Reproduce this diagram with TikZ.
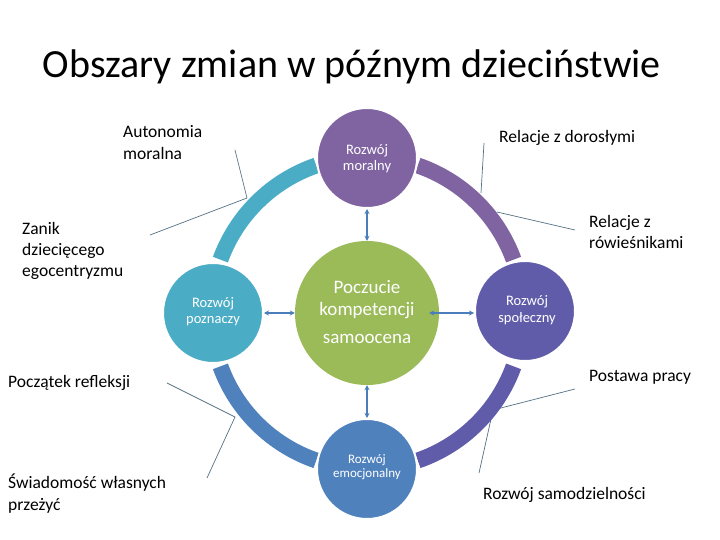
\documentclass[tikz,border=0pt]{standalone}
\usepackage{fontspec}
\setmainfont{Carlito}
\usetikzlibrary{arrows.meta}
\definecolor{cteal}{RGB}{75,172,198}
\definecolor{cpurple}{RGB}{128,100,162}
\definecolor{cindigo}{RGB}{96,92,170}
\definecolor{cblue}{RGB}{79,129,189}
\definecolor{cgreen}{RGB}{155,187,89}
\definecolor{carrow}{RGB}{74,126,187}
\definecolor{cline}{RGB}{84,112,132}
\tikzset{
  sat/.style={circle, minimum size=100pt, inner sep=0pt, draw=white, line width=2pt},
  sattext/.style={text=white, anchor=base, inner sep=0pt, font=\fontsize{14.5}{16}\selectfont},
  ctrtext/.style={text=white, anchor=base, inner sep=0pt, font=\fontsize{19}{22}\selectfont},
  band/.style={line width=16pt},
  lbl/.style={anchor=base west, inner sep=0pt, font=\fontsize{17.5}{21}\selectfont},
  thin/.style={draw=cline, line width=0.7pt},
  arr/.style={draw=carrow, line width=1.6pt, {Stealth[length=5pt,width=5pt]}-{Stealth[length=5pt,width=5pt]}},
}
\begin{document}
\begin{tikzpicture}[x=1pt,y=-1pt]
\useasboundingbox (0,0) rectangle (720,540);
\node[anchor=base, inner sep=0pt, font=\fontsize{40}{48}\selectfont] (title) at (352,78) {Obszary zmian w późnym dzieciństwie};

% labels
\node[lbl] (l1a) at (123,138) {Autonomia};
\node[lbl] (l1b) at (123,160) {moralna};
\node[lbl] (l2a) at (22,235) {Zanik};
\node[lbl] (l2b) at (22,255) {dziecięcego};
\node[lbl] (l2c) at (22,276) {egocentryzmu};
\node[lbl] (l3) at (499,143) {Relacje z dorosłymi};
\node[lbl] (l4a) at (589,228) {Relacje z};
\node[lbl] (l4b) at (589,248) {rówieśnikami};
\node[lbl] (l5) at (8,387) {Początek refleksji};
\node[lbl] (l6a) at (8,488) {Świadomość własnych};
\node[lbl] (l6b) at (8,510) {przeżyć};
\node[lbl] (l7) at (589,381) {Postawa pracy};
\node[lbl] (l8) at (483,499) {Rozwój samodzielności};

% thin leader lines
\coordinate (p1a) at (235,150); \coordinate (p1) at (247,198);
\coordinate (p2a) at (150,235);
\coordinate (p3a) at (484,143); \coordinate (p3) at (481,193);
\coordinate (p4a) at (575,230); \coordinate (p4) at (497,212);
\coordinate (p5a) at (167,383); \coordinate (p5) at (235,417); \coordinate (p5b) at (207,478);
\coordinate (p6a) at (575,389); \coordinate (p6) at (493,410); \coordinate (p6b) at (479,473);
\draw[thin] (p1a) -- (p1);
\draw[thin] (p2a) -- (p1);
\draw[thin] (p3a) -- (p3);
\draw[thin] (p4a) -- (p4);
\draw[thin] (p5a) -- (p5) -- (p5b);
\draw[thin] (p6a) -- (p6) -- (p6b);

% ring bands
\coordinate (C) at (367,313);
\draw[band, cteal] ([shift={(160:156pt)}]C) arc[start angle=160, end angle=109, radius=156pt];
\draw[band, cpurple] ([shift={(71:156pt)}]C) arc[start angle=71, end angle=20, radius=156pt];
\draw[band, cindigo] ([shift={(-20:156pt)}]C) arc[start angle=-20, end angle=-71, radius=156pt];
\draw[band, cblue] ([shift={(-109:156pt)}]C) arc[start angle=-109, end angle=-160, radius=156pt];

% circles
\node[circle, fill=cgreen, minimum size=144pt, inner sep=0pt] (ctr) at (367,313) {};
\node[sat, fill=cpurple] (top) at (367,158) {};
\node[sat, fill=cteal] (left) at (213,313) {};
\node[sat, fill=cindigo] (right) at (525,311) {};
\node[sat, fill=cblue] (bot) at (367,469) {};

% circle texts
\node[sattext] (t1a) at (367,155) {Rozwój};
\node[sattext] (t1b) at (367,171) {moralny};
\node[sattext] (t2a) at (213,307) {Rozwój};
\node[sattext] (t2b) at (213,323) {poznaczy};
\node[sattext] (t3a) at (527,305) {Rozwój};
\node[sattext] (t3b) at (527,322) {społeczny};
\node[sattext, font=\fontsize{13}{15}\selectfont] (t4a) at (367,463) {Rozwój};
\node[sattext, font=\fontsize{13}{15}\selectfont] (t4b) at (367,477) {emocjonalny};
\node[ctrtext] (c1) at (367,293) {Poczucie};
\node[ctrtext] (c2) at (367,315) {kompetencji};
\node[ctrtext] (c3) at (367,343) {samoocena};

% arrows
\draw[arr] (top.south) -- (ctr.north);
\draw[arr] (left.east) -- (left.east -| ctr.west);
\draw[arr] ([xshift=-10pt]ctr.east) -- (ctr.east -| right.west);
\draw[arr] (ctr.south) -- (bot.north);
\end{tikzpicture}
\end{document}
